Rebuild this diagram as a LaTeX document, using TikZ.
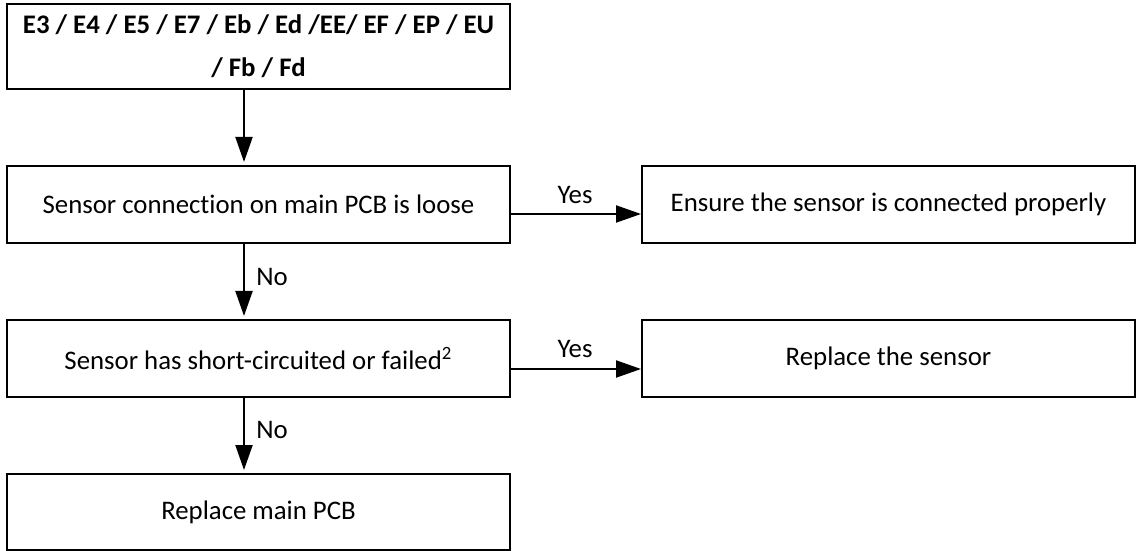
\documentclass[tikz,border=0pt]{standalone}
\usepackage{fontspec}
\setmainfont{Carlito}[Ligatures=NoCommon]
\usetikzlibrary{arrows.meta}

\begin{document}
\begin{tikzpicture}[x=0.5pt,y=-0.5pt,
  box/.style={draw,line width=1pt,inner sep=0pt,align=center,font=\fontsize{13.4}{16}\selectfont},
  arr/.style={line width=1pt,-{Triangle[length=12.5pt,width=8.5pt]}},
  lbl/.style={font=\fontsize{13.4}{16}\selectfont,inner sep=0pt}]
  \useasboundingbox (0,0) rectangle (1137,551);
  % Coordinates
  \coordinate (X) at (244,0);
  \coordinate (Y1) at (0,214);
  \coordinate (Y2) at (0,369);

  % Boxes
  \node[box, minimum width=251.5pt, minimum height=42.5pt,
    font=\bfseries\fontsize{13.4}{21.5}\selectfont] (codes) at (258.5,46.5)
    {E3 / E4 / E5 / E7 / Eb / Ed /EE/ EF / EP / EU\\/ Fb / Fd};
  \node[box, minimum width=251.5pt, minimum height=38.5pt] (loose) at (258.5,204.5)
    {Sensor connection on main PCB is loose};
  \node[box, minimum width=246.5pt, minimum height=38.5pt] (ensure) at (888.5,204.5)
    {Ensure the sensor is connected properly};
  \node[box, minimum width=251.5pt, minimum height=38.5pt] (failed) at (258.5,358.5)
    {Sensor has short-circuited or failed\textsuperscript{2}};
  \node[box, minimum width=246.5pt, minimum height=38.5pt] (sensor) at (888.5,358.5)
    {Replace the sensor};
  \node[box, minimum width=251.5pt, minimum height=38pt] (pcb) at (258.5,512)
    {Replace main PCB};

  % Drawing
  \draw[arr, shorten >=1.5pt] (codes.south -| X) -- (loose.north -| X);
  \draw[arr, shorten >=1.5pt] (loose.south -| X) -- (failed.north -| X);
  \draw[arr, shorten >=1.5pt] (failed.south -| X) -- (pcb.north -| X);
  \draw[arr] (loose.east |- Y1) -- (ensure.west |- Y1);
  \draw[arr] (failed.east |- Y2) -- (sensor.west |- Y2);
  \node[lbl] (yes1) at (575,195) {Yes};
  \node[lbl] (yes2) at (575,349) {Yes};
  \node[lbl] (no1) at (272,277) {No};
  \node[lbl] (no2) at (272,430) {No};
\end{tikzpicture}
\end{document}
